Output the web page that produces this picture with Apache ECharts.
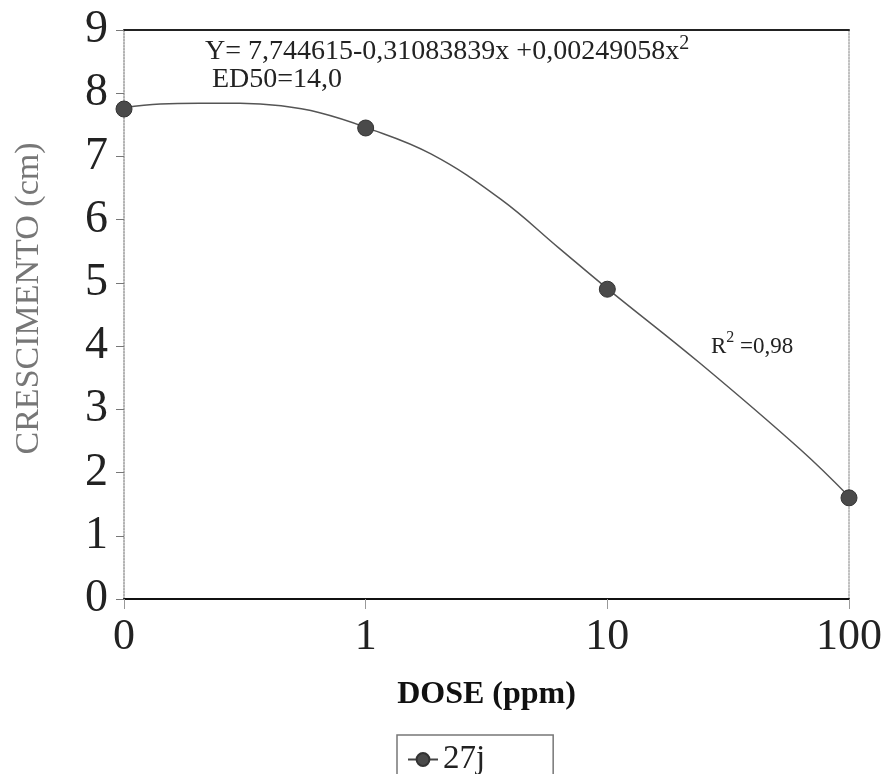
<!DOCTYPE html>
<html>
<head>
<meta charset="UTF-8">
<title>CRESCIMENTO x DOSE</title>
<script src="https://cdn.jsdelivr.net/npm/echarts@6/dist/echarts.min.js"></script>
<style>
  html, body { margin: 0; padding: 0; background: #fff; }
  #main { width: 885px; height: 774px; }
</style>
</head>
<body>
<div id="main"></div>
<script>
// dose categories, shown at equal steps along x (position = index)
const doseLabels = ['0', '1', '10', '100'];
// measured growth (cm) at each dose
const growth = [7.75, 7.45, 4.9, 1.6];
// fitted curve: [x position, cm]
const curvePos = [0, 0.15, 0.31, 0.48, 0.65, 0.81, 1, 1.27, 1.56, 1.8, 2, 2.38, 2.8, 3];
const curveVal = [7.77, 7.83, 7.84, 7.84, 7.8, 7.69, 7.46, 7.04, 6.32, 5.55, 4.91, 3.74, 2.36, 1.62];
const yTicks = [0, 9, 1]; // min, max, interval

const serif = 'Liberation Serif, DejaVu Serif, serif';
const chart = echarts.init(document.getElementById('main'), null, { renderer: 'canvas' });

chart.setOption({
  animation: false,
  backgroundColor: '#fff',
  grid: { left: 124, right: 36, top: 30, bottom: 175 },
  legend: {
    data: ['27j'],
    left: 397,
    top: 735,
    itemWidth: 30,
    itemHeight: 16,
    itemGap: 4,
    padding: [8, 68, 30, 10],
    borderColor: '#777',
    borderWidth: 1.5,
    textStyle: { fontFamily: serif, fontSize: 33, color: '#222' },
    lineStyle: { opacity: 1, width: 2, color: '#444' }
  },
  xAxis: [{
    type: 'value',
    min: 0, max: 3, interval: 1,
    name: 'DOSE (ppm)',
    nameLocation: 'middle',
    nameGap: 80,
    nameTextStyle: { fontFamily: serif, fontSize: 32, fontWeight: 'bold', color: '#111' },
    axisLine: { show: true, onZero: false, lineStyle: { color: '#111', width: 2 } },
    axisTick: { show: true, length: 10, lineStyle: { color: '#999' } },
    axisLabel: {
      fontFamily: serif, fontSize: 44, color: '#222', margin: 16,
      formatter: v => doseLabels[v]
    },
    splitLine: { show: false }
  }, {
    type: 'value', position: 'top',
    min: 0, max: 3,
    axisLine: { show: true, onZero: false, lineStyle: { color: '#222', width: 2 } },
    axisTick: { show: false }, axisLabel: { show: false }, splitLine: { show: false }
  }],
  yAxis: [{
    type: 'value',
    min: yTicks[0], max: yTicks[1], interval: yTicks[2],
    name: 'CRESCIMENTO (cm)',
    nameLocation: 'middle',
    nameGap: 78,
    nameTextStyle: { fontFamily: serif, fontSize: 34, color: '#777', padding: [0, 0, 0, 32] },
    axisLine: { show: true, onZero: false, lineStyle: { color: '#999', width: 1.5, type: 'dotted' } },
    axisTick: { show: true, length: 8, lineStyle: { color: '#777' } },
    axisLabel: { fontFamily: serif, fontSize: 46, color: '#222', margin: 16 },
    splitLine: { show: false }
  }, {
    type: 'value', position: 'right',
    min: 0, max: 9,
    axisLine: { show: true, onZero: false, lineStyle: { color: '#aaa', width: 1.5, type: 'dotted' } },
    axisTick: { show: false }, axisLabel: { show: false }, splitLine: { show: false }
  }],
  series: [{
    name: 'fit',
    type: 'line',
    smooth: 0.4,
    symbol: 'none',
    lineStyle: { color: '#555', width: 1.5 },
    data: curvePos.map((p, i) => [p, curveVal[i]]),
    z: 2
  }, {
    name: '27j',
    type: 'line',
    symbol: 'circle',
    symbolSize: 16,
    lineStyle: { opacity: 0 },
    itemStyle: { color: '#4a4a4a', borderColor: '#333', borderWidth: 1 },
    data: growth.map((v, i) => [i, v]),
    z: 3
  }],
  graphic: [{
    type: 'text',
    left: 205, top: 34,
    style: {
      text: '{a|Y= 7,744615-0,31083839x +0,00249058x}{s|2}',
      rich: {
        a: { fontFamily: serif, fontSize: 28, fill: '#222' },
        s: { fontFamily: serif, fontSize: 20, fill: '#222', padding: [0, 0, 16, 0] }
      }
    }
  }, {
    type: 'text',
    left: 212, top: 66,
    style: { text: 'ED50=14,0', fontFamily: serif, fontSize: 28, fill: '#222' }
  }, {
    type: 'text',
    left: 711, top: 330,
    style: {
      text: '{a|R}{s|2}{a| =0,98}',
      rich: {
        a: { fontFamily: 'Liberation Sans Narrow, Liberation Serif, serif', fontSize: 23, fill: '#222' },
        s: { fontFamily: serif, fontSize: 16, fill: '#222', padding: [0, 0, 18, 0] }
      }
    }
  }]
});
</script>
</body>
</html>
